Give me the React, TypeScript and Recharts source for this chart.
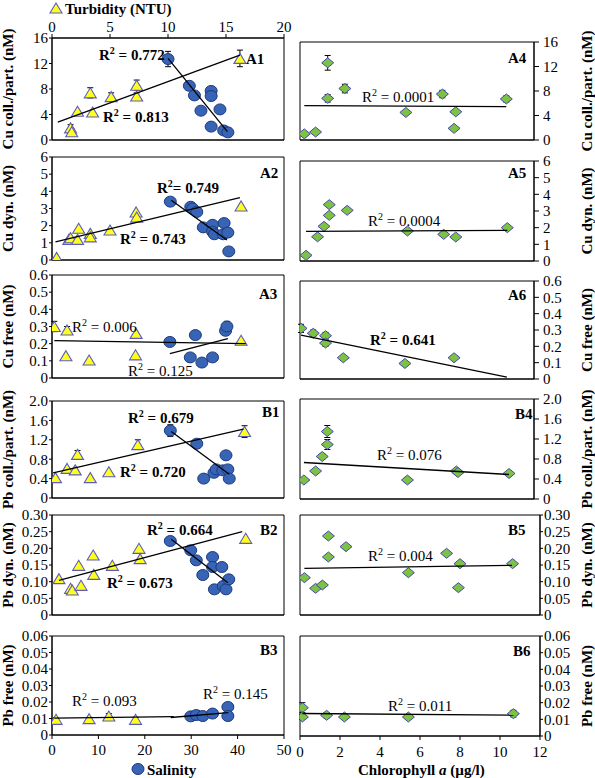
import { ScatterChart, Scatter, XAxis, YAxis, ErrorBar, ReferenceArea } from 'recharts';

type Pt = { x: number; y: number; err?: number };

const SERIF = '"Liberation Serif", "Times New Roman", Times, serif';

// axis ticks
const turbidityTicks = [0, 5, 10, 15, 20];
const salinityTicks = [0, 10, 20, 30, 40, 50];
const chlorophyllTicks = [0, 2, 4, 6, 8, 10, 12];
const cuPartTicks = [0, 4, 8, 12, 16];
const cuDynTicks = [0, 1, 2, 3, 4, 5, 6];
const cuFreeTicks = [0, 0.1, 0.2, 0.3, 0.4, 0.5, 0.6];
const pbPartTicks = [0, 0.4, 0.8, 1.2, 1.6, 2.0];
const pbDynTicks = [0, 0.05, 0.1, 0.15, 0.2, 0.25, 0.3];
const pbFreeTicks = [0, 0.01, 0.02, 0.03, 0.04, 0.05, 0.06];

// ---- A1: Cu coll./part. vs turbidity (triangles) and salinity (circles)
const a1Turbidity: Pt[] = [
  { x: 1.6, y: 1.9, err: 0.5 }, { x: 1.7, y: 1.3, err: 0.4 }, { x: 2.2, y: 4.5 }, { x: 3.5, y: 4.4 },
  { x: 3.3, y: 7.4, err: 0.8 }, { x: 5.1, y: 6.8, err: 0.6 }, { x: 7.3, y: 8.6, err: 0.8 },
  { x: 7.3, y: 6.9, err: 0.5 }, { x: 16.2, y: 12.8, err: 1.3 },
];
const a1Salinity: Pt[] = [
  { x: 25.0, y: 12.7, err: 1.2 }, { x: 29.6, y: 8.5, err: 0.6 }, { x: 30.7, y: 7.0 }, { x: 32.1, y: 4.6 },
  { x: 34.3, y: 2.1 }, { x: 34.3, y: 7.7, err: 0.5 }, { x: 34.3, y: 6.9 }, { x: 36.2, y: 4.8 },
  { x: 37.0, y: 1.5 }, { x: 37.9, y: 1.2 },
];
const a1TurbidityFit: Pt[] = [{ x: 0.5, y: 2.8 }, { x: 16.2, y: 13.3 }];
const a1SalinityFit: Pt[] = [{ x: 25.0, y: 12.8 }, { x: 37.8, y: 1.3 }];

// ---- A2: Cu dyn.
const a2Turbidity: Pt[] = [
  { x: 0.4, y: 0.15 }, { x: 1.45, y: 1.2 }, { x: 1.6, y: 1.3 }, { x: 2.2, y: 1.2 }, { x: 2.3, y: 1.85 },
  { x: 3.3, y: 1.55 }, { x: 3.3, y: 1.35 }, { x: 5.0, y: 1.75 }, { x: 7.25, y: 2.8 }, { x: 7.3, y: 2.5 },
  { x: 16.3, y: 3.15 },
];
const a2Salinity: Pt[] = [
  { x: 25.5, y: 3.4 }, { x: 29.9, y: 3.1 }, { x: 30.3, y: 3.0 }, { x: 31.2, y: 2.8 }, { x: 32.6, y: 1.9 },
  { x: 34.6, y: 2.05 }, { x: 34.6, y: 1.65 }, { x: 35.0, y: 1.5 }, { x: 36.9, y: 1.5 }, { x: 37.1, y: 2.15 },
  { x: 37.9, y: 1.6 }, { x: 38.1, y: 0.5 },
];
const a2TurbidityFit: Pt[] = [{ x: 0.3, y: 1.06 }, { x: 16.2, y: 3.64 }];
const a2SalinityFit: Pt[] = [{ x: 25.7, y: 3.48 }, { x: 37.7, y: 1.16 }];

// ---- A3: Cu free
const a3Turbidity: Pt[] = [
  { x: 0.2, y: 0.3, err: 0.03 }, { x: 1.3, y: 0.28, err: 0.02 }, { x: 1.2, y: 0.13 }, { x: 3.2, y: 0.105 },
  { x: 7.25, y: 0.26 }, { x: 7.2, y: 0.135 }, { x: 16.3, y: 0.22 },
];
const a3Salinity: Pt[] = [
  { x: 25.4, y: 0.21, err: 0.01 }, { x: 29.8, y: 0.12 }, { x: 30.9, y: 0.25 }, { x: 32.3, y: 0.09 },
  { x: 34.6, y: 0.12 }, { x: 37.4, y: 0.275, err: 0.02 }, { x: 37.7, y: 0.3, err: 0.03 },
];
const a3TurbidityFit: Pt[] = [{ x: 0.2, y: 0.218 }, { x: 16.7, y: 0.2 }];
const a3SalinityFit: Pt[] = [{ x: 25.4, y: 0.142 }, { x: 37.9, y: 0.229 }];

// ---- B1: Pb coll./part.
const b1Turbidity: Pt[] = [
  { x: 0.3, y: 0.42 }, { x: 1.3, y: 0.61 }, { x: 2.0, y: 0.58 }, { x: 2.2, y: 0.9, err: 0.08 },
  { x: 3.3, y: 0.42 }, { x: 4.9, y: 0.54 }, { x: 7.4, y: 1.1, err: 0.1 }, { x: 16.6, y: 1.37, err: 0.12 },
];
const b1Salinity: Pt[] = [
  { x: 25.5, y: 1.39, err: 0.12 }, { x: 31.2, y: 1.12, err: 0.08 }, { x: 32.7, y: 0.4 }, { x: 34.9, y: 0.52 },
  { x: 35.4, y: 0.59 }, { x: 36.8, y: 0.57 }, { x: 37.5, y: 0.88 }, { x: 37.9, y: 0.59 }, { x: 38.2, y: 0.4 },
];
const b1TurbidityFit: Pt[] = [{ x: 0.1, y: 0.52 }, { x: 16.5, y: 1.42 }];
const b1SalinityFit: Pt[] = [{ x: 25.7, y: 1.37 }, { x: 38.2, y: 0.49 }];

// ---- B2: Pb dyn.
const b2Turbidity: Pt[] = [
  { x: 0.6, y: 0.109 }, { x: 1.6, y: 0.08 }, { x: 1.75, y: 0.075 }, { x: 2.3, y: 0.149 }, { x: 2.5, y: 0.089 },
  { x: 3.55, y: 0.18 }, { x: 3.6, y: 0.122 }, { x: 5.2, y: 0.149 }, { x: 7.5, y: 0.2 }, { x: 7.6, y: 0.169 },
  { x: 16.7, y: 0.23 },
];
const b2Salinity: Pt[] = [
  { x: 25.5, y: 0.222 }, { x: 29.9, y: 0.194 }, { x: 31.1, y: 0.164 }, { x: 32.5, y: 0.12 }, { x: 34.6, y: 0.174 },
  { x: 34.6, y: 0.144 }, { x: 35.0, y: 0.077 }, { x: 36.6, y: 0.144 }, { x: 36.9, y: 0.087 }, { x: 37.5, y: 0.077 },
  { x: 38.1, y: 0.107 },
];
const b2TurbidityFit: Pt[] = [{ x: 0.6, y: 0.104 }, { x: 16.4, y: 0.25 }];
const b2SalinityFit: Pt[] = [{ x: 25.7, y: 0.227 }, { x: 37.9, y: 0.097 }];

// ---- B3: Pb free
const b3Turbidity: Pt[] = [
  { x: 0.35, y: 0.0095, err: 0.001 }, { x: 3.2, y: 0.0099, err: 0.0008 }, { x: 4.9, y: 0.0115, err: 0.0015 },
  { x: 7.2, y: 0.0095, err: 0.0012 },
];
const b3Salinity: Pt[] = [
  { x: 29.9, y: 0.0113 }, { x: 31.1, y: 0.0121 }, { x: 32.5, y: 0.0115 }, { x: 34.6, y: 0.013, err: 0.0012 },
  { x: 37.9, y: 0.017, err: 0.002 }, { x: 37.9, y: 0.0115 },
];
const b3TurbidityFit: Pt[] = [{ x: 0.2, y: 0.0102 }, { x: 10.5, y: 0.0111 }];
const b3SalinityFit: Pt[] = [{ x: 25.6, y: 0.0106 }, { x: 38.0, y: 0.0135 }];

// ---- right column: vs chlorophyll a
const a4Chlorophyll: Pt[] = [
  { x: 0.22, y: 1.0 }, { x: 0.8, y: 1.3 }, { x: 1.42, y: 12.6, err: 1.2 }, { x: 1.42, y: 6.8, err: 0.6 },
  { x: 2.3, y: 8.4, err: 0.7 }, { x: 5.43, y: 4.5 }, { x: 7.3, y: 7.5, err: 0.6 }, { x: 7.9, y: 1.9 },
  { x: 7.99, y: 4.6 }, { x: 10.58, y: 6.7, err: 0.5 },
];
const a4Fit: Pt[] = [{ x: 0.22, y: 5.6 }, { x: 10.58, y: 5.45 }];

const a5Chlorophyll: Pt[] = [
  { x: 0.31, y: 0.34 }, { x: 0.9, y: 1.45 }, { x: 1.23, y: 2.08 }, { x: 1.5, y: 2.74 }, { x: 1.5, y: 3.38 },
  { x: 2.42, y: 3.04 }, { x: 5.51, y: 1.8 }, { x: 7.37, y: 1.6 }, { x: 7.99, y: 1.44 }, { x: 10.63, y: 2.0 },
];
const a5Fit: Pt[] = [{ x: 0.31, y: 1.78 }, { x: 10.63, y: 1.84 }];

const a6Chlorophyll: Pt[] = [
  { x: 0.05, y: 0.31, err: 0.025 }, { x: 0.68, y: 0.28, err: 0.02 }, { x: 1.31, y: 0.265, err: 0.02 },
  { x: 1.31, y: 0.22, err: 0.02 }, { x: 2.22, y: 0.13 }, { x: 5.38, y: 0.095 }, { x: 7.9, y: 0.13 },
];
const a6Fit: Pt[] = [{ x: 0.05, y: 0.268 }, { x: 10.61, y: 0.012 }];

const b4Chlorophyll: Pt[] = [
  { x: 0.2, y: 0.38 }, { x: 0.8, y: 0.56 }, { x: 1.14, y: 0.85, err: 0.05 }, { x: 1.4, y: 1.09, err: 0.1 },
  { x: 1.4, y: 1.35, err: 0.12 }, { x: 5.51, y: 0.38 }, { x: 8.02, y: 0.56 }, { x: 8.1, y: 0.53 },
  { x: 10.72, y: 0.51 },
];
const b4Fit: Pt[] = [{ x: 0.2, y: 0.73 }, { x: 10.72, y: 0.49 }];

const b5Chlorophyll: Pt[] = [
  { x: 0.22, y: 0.112 }, { x: 0.78, y: 0.08 }, { x: 1.12, y: 0.09 }, { x: 1.42, y: 0.237 }, { x: 1.42, y: 0.174 },
  { x: 2.3, y: 0.205 }, { x: 5.42, y: 0.127 }, { x: 7.33, y: 0.185 }, { x: 7.92, y: 0.082 }, { x: 8.0, y: 0.154 },
  { x: 10.63, y: 0.154 },
];
const b5Fit: Pt[] = [{ x: 0.22, y: 0.14 }, { x: 10.6, y: 0.149 }];

const b6Chlorophyll: Pt[] = [
  { x: 0.12, y: 0.017, err: 0.003 }, { x: 0.12, y: 0.0114, err: 0.0015 }, { x: 1.33, y: 0.0124, err: 0.0015 },
  { x: 2.22, y: 0.0114, err: 0.001 }, { x: 5.42, y: 0.0114, err: 0.0012 }, { x: 10.67, y: 0.0134, err: 0.002 },
];
const b6Fit: Pt[] = [{ x: 0.12, y: 0.0135 }, { x: 10.67, y: 0.0125 }];

// colours
const TRI_FILL = '#ffff1f';
const TRI_EDGE = '#5c5cc0';
const DOT_FILL = '#3764b4';
const DOT_EDGE = '#1d3a80';
const DIA_FILL = '#7cc243';
const DIA_EDGE = '#4848a8';

const tickStyle = { fontSize: 15, fontFamily: SERIF, fill: '#000' };
const fmt = (digits: number) => (v: number) => (v === 0 ? '0' : v.toFixed(digits));

const TriangleMark = (p: any) =>
  p.cx == null ? <g /> : (
    <polygon
      points={`${p.cx},${p.cy - 5} ${p.cx + 6},${p.cy + 5} ${p.cx - 6},${p.cy + 5}`}
      fill={TRI_FILL}
      stroke={TRI_EDGE}
      strokeWidth={1.1}
    />
  );
const CircleMark = (p: any) =>
  p.cx == null ? <g /> : <ellipse cx={p.cx} cy={p.cy} rx={6} ry={5.5} fill={DOT_FILL} stroke={DOT_EDGE} strokeWidth={1} />;
const DiamondMark = (p: any) =>
  p.cx == null ? <g /> : (
    <polygon
      points={`${p.cx},${p.cy - 5} ${p.cx + 6},${p.cy} ${p.cx},${p.cy + 5} ${p.cx - 6},${p.cy}`}
      fill={DIA_FILL}
      stroke={DIA_EDGE}
      strokeWidth={1}
    />
  );
const NoMark = () => <g />;

type Rect = { left: number; top: number; right: number; bottom: number };
type R2 = { text: string; x: number; y: number; bold?: boolean; tight?: boolean };

interface LeftCfg {
  name: string;
  plot: Rect;
  title: string;
  yTicks: number[];
  digits: number;
  turb: Pt[];
  sal: Pt[];
  turbFit: Pt[];
  salFit: Pt[];
  topAxis?: boolean;
  bottomLabels?: boolean;
  label: [number, number];
  r2: R2[];
}

interface RightCfg {
  name: string;
  plot: Rect;
  title: string;
  yTicks: number[];
  digits: number;
  chl: Pt[];
  fit: Pt[];
  tickSize: number;
  tickMargin: number;
  bottomLabels?: boolean;
  label: [number, number];
  r2: R2[];
}

const leftPanels: LeftCfg[] = [
  {
    name: 'A1', plot: { left: 52, top: 38, right: 284, bottom: 140 }, title: 'Cu coll./part. (nM)',
    yTicks: cuPartTicks, digits: 0, turb: a1Turbidity, sal: a1Salinity, turbFit: a1TurbidityFit, salFit: a1SalinityFit,
    topAxis: true, label: [246, 64],
    r2: [{ text: '0.772', x: 99, y: 60, bold: true }, { text: '0.813', x: 103, y: 122, bold: true }],
  },
  {
    name: 'A2', plot: { left: 52, top: 157, right: 284, bottom: 260 }, title: 'Cu dyn. (nM)',
    yTicks: cuDynTicks, digits: 0, turb: a2Turbidity, sal: a2Salinity, turbFit: a2TurbidityFit, salFit: a2SalinityFit,
    label: [260, 178],
    r2: [{ text: '0.749', x: 157, y: 193, bold: true, tight: true }, { text: '0.743', x: 120, y: 244, bold: true }],
  },
  {
    name: 'A3', plot: { left: 52, top: 275, right: 284, bottom: 378 }, title: 'Cu free (nM)',
    yTicks: cuFreeTicks, digits: 1, turb: a3Turbidity, sal: a3Salinity, turbFit: a3TurbidityFit, salFit: a3SalinityFit,
    label: [259, 299],
    r2: [{ text: '0.006', x: 72, y: 332 }, { text: '0.125', x: 128, y: 376 }],
  },
  {
    name: 'B1', plot: { left: 52, top: 401, right: 284, bottom: 498 }, title: 'Pb coll./part. (nM)',
    yTicks: pbPartTicks, digits: 1, turb: b1Turbidity, sal: b1Salinity, turbFit: b1TurbidityFit, salFit: b1SalinityFit,
    label: [262, 417],
    r2: [{ text: '0.679', x: 128, y: 423, bold: true }, { text: '0.720', x: 120, y: 477, bold: true }],
  },
  {
    name: 'B2', plot: { left: 52, top: 515, right: 284, bottom: 615 }, title: 'Pb dyn. (nM)',
    yTicks: pbDynTicks, digits: 2, turb: b2Turbidity, sal: b2Salinity, turbFit: b2TurbidityFit, salFit: b2SalinityFit,
    label: [260, 535],
    r2: [{ text: '0.664', x: 147, y: 535, bold: true }, { text: '0.673', x: 107, y: 588, bold: true }],
  },
  {
    name: 'B3', plot: { left: 52, top: 636, right: 284, bottom: 735 }, title: 'Pb free (nM)',
    yTicks: pbFreeTicks, digits: 2, turb: b3Turbidity, sal: b3Salinity, turbFit: b3TurbidityFit, salFit: b3SalinityFit,
    bottomLabels: true, label: [260, 655],
    r2: [{ text: '0.093', x: 72, y: 706 }, { text: '0.145', x: 203, y: 699 }],
  },
];

const rightPanels: RightCfg[] = [
  {
    name: 'A4', plot: { left: 300, top: 42, right: 534, bottom: 140 }, title: 'Cu coll./part. (nM)',
    yTicks: cuPartTicks, digits: 0, chl: a4Chlorophyll, fit: a4Fit, tickSize: 5, tickMargin: 4,
    label: [508, 63], r2: [{ text: '0.0001', x: 362, y: 102 }],
  },
  {
    name: 'A5', plot: { left: 300, top: 161, right: 534, bottom: 261 }, title: 'Cu dyn. (nM)',
    yTicks: cuDynTicks, digits: 0, chl: a5Chlorophyll, fit: a5Fit, tickSize: 5, tickMargin: 4,
    label: [508, 178], r2: [{ text: '0.0004', x: 368, y: 226 }],
  },
  {
    name: 'A6', plot: { left: 300, top: 281, right: 534, bottom: 379 }, title: 'Cu free (nM)',
    yTicks: cuFreeTicks, digits: 1, chl: a6Chlorophyll, fit: a6Fit, tickSize: 5, tickMargin: 4,
    label: [508, 300], r2: [{ text: '0.641', x: 370, y: 345, bold: true }],
  },
  {
    name: 'B4', plot: { left: 300, top: 399, right: 534, bottom: 499 }, title: 'Pb coll./part. (nM)',
    yTicks: pbPartTicks, digits: 1, chl: b4Chlorophyll, fit: b4Fit, tickSize: 5, tickMargin: 4,
    label: [515, 419], r2: [{ text: '0.076', x: 377, y: 460 }],
  },
  {
    name: 'B5', plot: { left: 300, top: 515, right: 540, bottom: 615 }, title: 'Pb dyn. (nM)',
    yTicks: pbDynTicks, digits: 2, chl: b5Chlorophyll, fit: b5Fit, tickSize: 3, tickMargin: 1,
    label: [508, 535], r2: [{ text: '0.004', x: 368, y: 561 }],
  },
  {
    name: 'B6', plot: { left: 300, top: 636, right: 540, bottom: 736 }, title: 'Pb free (nM)',
    yTicks: pbFreeTicks, digits: 2, chl: b6Chlorophyll, fit: b6Fit, tickSize: 3, tickMargin: 1,
    bottomLabels: true, label: [513, 656], r2: [{ text: '0.011', x: 388, y: 711 }],
  },
];

const fitLine = { stroke: '#000', strokeWidth: 1.3 };

function SalinityPanel({ cfg }: { cfg: LeftCfg }) {
  const { plot } = cfg;
  const padTop = cfg.topAxis ? plot.top : 10;
  const padBottom = cfg.bottomLabels ? 30 : 8;
  const width = plot.right + 8;
  const height = padTop + (plot.bottom - plot.top) + padBottom;
  const yMax = cfg.yTicks[cfg.yTicks.length - 1];
  return (
    <div style={{ position: 'absolute', left: 0, top: plot.top - padTop }}>
      <ScatterChart
        width={width}
        height={height}
        margin={{ top: cfg.topAxis ? padTop - 24 : padTop, right: 8, bottom: 0, left: 0 }}
      >
        <XAxis
          xAxisId="t" type="number" dataKey="x" orientation="top" domain={[0, 20]} ticks={turbidityTicks}
          interval={0} allowDataOverflow hide={!cfg.topAxis} height={24} stroke="#000" tickSize={4} tickMargin={2}
          tick={tickStyle}
        />
        <XAxis
          xAxisId="s" type="number" dataKey="x" orientation="bottom" domain={[0, 50]} ticks={salinityTicks}
          interval={0} allowDataOverflow height={padBottom} stroke="#000" tickSize={4} tickMargin={5}
          tick={cfg.bottomLabels ? tickStyle : false}
        />
        <YAxis
          yAxisId="v" type="number" dataKey="y" domain={[0, yMax]} ticks={cfg.yTicks} interval={0} allowDataOverflow
          width={plot.left} stroke="#000" tickSize={3} tickMargin={1} tick={tickStyle} tickFormatter={fmt(cfg.digits)}
        />
        <ReferenceArea
          xAxisId="s" yAxisId="v" x1={0} x2={50} y1={0} y2={yMax} fill="none" stroke="#000" strokeWidth={1}
          ifOverflow="visible"
        />
        <Scatter xAxisId="t" yAxisId="v" data={cfg.turb} shape={TriangleMark} isAnimationActive={false}>
          <ErrorBar dataKey="err" direction="y" width={3} stroke="#000" strokeWidth={1} />
        </Scatter>
        <Scatter xAxisId="s" yAxisId="v" data={cfg.sal} shape={CircleMark} isAnimationActive={false}>
          <ErrorBar dataKey="err" direction="y" width={3} stroke="#000" strokeWidth={1} />
        </Scatter>
        <Scatter xAxisId="t" yAxisId="v" data={cfg.turbFit} line={fitLine} shape={NoMark} isAnimationActive={false} />
        <Scatter xAxisId="s" yAxisId="v" data={cfg.salFit} line={fitLine} shape={NoMark} isAnimationActive={false} />
      </ScatterChart>
    </div>
  );
}

function ChlorophyllPanel({ cfg }: { cfg: RightCfg }) {
  const { plot } = cfg;
  const padLeft = 4;
  const padTop = 10;
  const padBottom = cfg.bottomLabels ? 30 : 8;
  const axisW = 50;
  const width = padLeft + (plot.right - plot.left) + axisW;
  const height = padTop + (plot.bottom - plot.top) + padBottom;
  const yMax = cfg.yTicks[cfg.yTicks.length - 1];
  return (
    <div style={{ position: 'absolute', left: plot.left - padLeft, top: plot.top - padTop }}>
      <ScatterChart width={width} height={height} margin={{ top: padTop, right: 0, bottom: 0, left: padLeft }}>
        <XAxis
          xAxisId="c" type="number" dataKey="x" orientation="bottom" domain={[0, 12]} ticks={chlorophyllTicks}
          interval={0} allowDataOverflow height={padBottom} stroke="#000" tickSize={4} tickMargin={6}
          tick={cfg.bottomLabels ? tickStyle : false}
        />
        <YAxis
          yAxisId="v" type="number" dataKey="y" orientation="right" domain={[0, yMax]} ticks={cfg.yTicks}
          interval={0} allowDataOverflow width={axisW} stroke="#000" tickSize={cfg.tickSize}
          tickMargin={cfg.tickMargin} tick={tickStyle} tickFormatter={fmt(cfg.digits)}
        />
        <ReferenceArea
          xAxisId="c" yAxisId="v" x1={0} x2={12} y1={0} y2={yMax} fill="none" stroke="#000" strokeWidth={1}
          ifOverflow="visible"
        />
        <Scatter xAxisId="c" yAxisId="v" data={cfg.chl} shape={DiamondMark} isAnimationActive={false}>
          <ErrorBar dataKey="err" direction="y" width={3} stroke="#000" strokeWidth={1} />
        </Scatter>
        <Scatter xAxisId="c" yAxisId="v" data={cfg.fit} line={fitLine} shape={NoMark} isAnimationActive={false} />
      </ScatterChart>
    </div>
  );
}

function R2Text({ r }: { r: R2 }) {
  return (
    <text x={r.x} y={r.y} fontSize={15} fontFamily={SERIF} fontWeight={r.bold ? 'bold' : 'normal'} fill="#000">
      R
      <tspan dy={-6} fontSize={10}>2</tspan>
      <tspan dy={6}>{(r.tight ? '= ' : ' = ') + r.text}</tspan>
    </text>
  );
}

function AxisTitle({ x, cy, text }: { x: number; cy: number; text: string }) {
  return (
    <text
      transform={`translate(${x}, ${cy}) rotate(-90)`}
      textAnchor="middle"
      fontSize={15}
      fontWeight="bold"
      fontFamily={SERIF}
      fill="#000"
    >
      {text}
    </text>
  );
}

function Overlay() {
  const bold = { fontSize: 15, fontWeight: 'bold' as const, fontFamily: SERIF, fill: '#000' };
  return (
    <svg width={595} height={778} style={{ position: 'absolute', left: 0, top: 0, pointerEvents: 'none' }}>
      {/* legends */}
      <polygon points="56,3 62,13 50,13" fill={TRI_FILL} stroke={TRI_EDGE} strokeWidth={1.1} />
      <text x={65} y={14} {...bold}>Turbidity (NTU)</text>
      <ellipse cx={138} cy={769} rx={6} ry={5.5} fill={DOT_FILL} stroke={DOT_EDGE} />
      <text x={147} y={775} {...bold}>Salinity</text>
      <text x={358} y={775} {...bold}>
        Chlorophyll <tspan fontStyle="italic">a</tspan> (µg/l)
      </text>

      {leftPanels.map((p) => (
        <g key={p.name}>
          <AxisTitle x={13} cy={(p.plot.top + p.plot.bottom) / 2} text={p.title} />
          <text x={p.label[0]} y={p.label[1]} {...bold}>{p.name}</text>
          {p.r2.map((r) => <R2Text key={r.text} r={r} />)}
        </g>
      ))}
      {rightPanels.map((p) => (
        <g key={p.name}>
          <AxisTitle x={592} cy={(p.plot.top + p.plot.bottom) / 2} text={p.title} />
          <text x={p.label[0]} y={p.label[1]} {...bold}>{p.name}</text>
          {p.r2.map((r) => <R2Text key={r.text} r={r} />)}
        </g>
      ))}
    </svg>
  );
}

export default function App() {
  return (
    <div style={{ position: 'absolute', left: 0, top: 0, width: 595, height: 778, background: '#fff' }}>
      {leftPanels.map((p) => <SalinityPanel key={p.name} cfg={p} />)}
      {rightPanels.map((p) => <ChlorophyllPanel key={p.name} cfg={p} />)}
      <Overlay />
    </div>
  );
}
